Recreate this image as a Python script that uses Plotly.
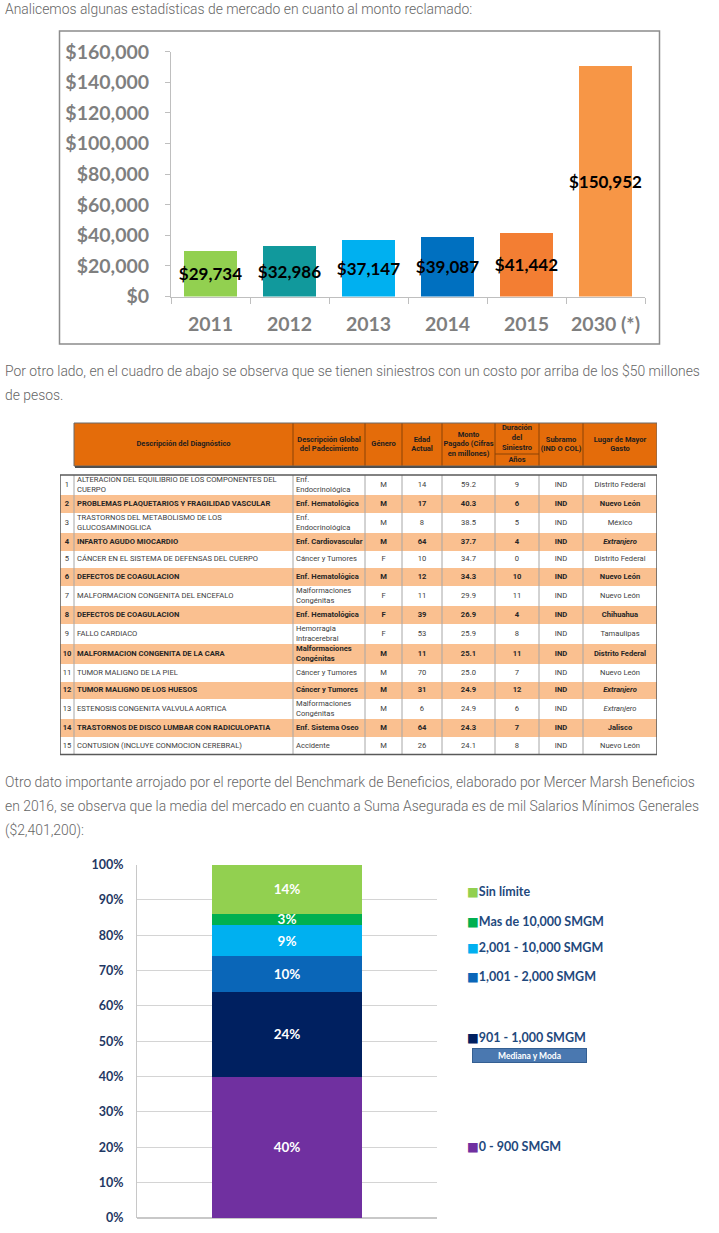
import numpy as np
import plotly.graph_objects as go

W, H = 719, 1233


def fx(p):
    return p / W


def fy(p):
    return 1 - p / H


# ---------------- data ----------------
intro_lines = ["Analicemos algunas estadísticas de mercado en cuanto al monto reclamado:"]
para2_lines = [
    "Por otro lado, en el cuadro de abajo se observa que se tienen siniestros con un costo por arriba de los $50 millones",
    "de pesos.",
]
para3_lines = [
    "Otro dato importante arrojado por el reporte del Benchmark de Beneficios, elaborado por Mercer Marsh Beneficios",
    "en 2016, se observa que la media del mercado en cuanto a Suma Asegurada es de mil Salarios Mínimos Generales",
    "($2,401,200):",
]

years = ["2011", "2012", "2013", "2014", "2015", "2030 (*)"]
claim_amounts = [29734, 32986, 37147, 39087, 41442, 150952]
year_colors = ["#92d050", "#11999c", "#00b0f0", "#0070c0", "#f37e33", "#f79646"]
amount_ticks = [0, 20000, 40000, 60000, 80000, 100000, 120000, 140000, 160000]

header_labels = [
    "Descripción del Diagnóstico",
    "Descripción Global<br>del Padecimiento",
    "Género",
    "Edad<br>Actual",
    "Monto<br>Pagado (Cifras<br>en millones)",
    "Duración<br>del<br>Siniestro",
    "Subramo<br>(IND O COL)",
    "Lugar de Mayor<br>Gasto",
]
header_sub = "Años"

row_numbers = list(range(1, 16))
diagnosis = [
    "ALTERACION DEL EQUILIBRIO DE LOS COMPONENTES DEL<br>CUERPO",
    "PROBLEMAS PLAQUETARIOS Y FRAGILIDAD VASCULAR",
    "TRASTORNOS DEL METABOLISMO DE LOS<br>GLUCOSAMINOGLICA",
    "INFARTO AGUDO MIOCARDIO",
    "CÁNCER EN EL SISTEMA DE DEFENSAS DEL CUERPO",
    "DEFECTOS DE COAGULACION",
    "MALFORMACION CONGENITA DEL ENCEFALO",
    "DEFECTOS DE COAGULACION",
    "FALLO CARDIACO",
    "MALFORMACION CONGENITA DE LA CARA",
    "TUMOR MALIGNO DE LA PIEL",
    "TUMOR MALIGNO DE LOS HUESOS",
    "ESTENOSIS CONGENITA VALVULA AORTICA",
    "TRASTORNOS DE DISCO LUMBAR CON RADICULOPATIA",
    "CONTUSION (INCLUYE CONMOCION CEREBRAL)",
]
global_desc = [
    "Enf.<br>Endocrinológica",
    "Enf. Hematológica",
    "Enf.<br>Endocrinológica",
    "Enf. Cardiovascular",
    "Cáncer y Tumores",
    "Enf. Hematológica",
    "Malformaciones<br>Congénitas",
    "Enf. Hematológica",
    "Hemorragia<br>Intracerebral",
    "Malformaciones<br>Congénitas",
    "Cáncer y Tumores",
    "Cáncer y Tumores",
    "Malformaciones<br>Congénitas",
    "Enf. Sistema Oseo",
    "Accidente",
]
gender = ["M", "M", "M", "M", "F", "M", "F", "F", "F", "M", "M", "M", "M", "M", "M"]
age = [14, 17, 8, 64, 10, 12, 11, 39, 53, 11, 70, 31, 6, 64, 26]
amount_paid = [59.2, 40.3, 38.5, 37.7, 34.7, 34.3, 29.9, 26.9, 25.9, 25.1, 25.0, 24.9, 24.9, 24.3, 24.1]
duration_years = [9, 6, 5, 4, 0, 10, 11, 4, 8, 11, 7, 12, 6, 7, 8]
subramo = ["IND"] * 15
place = [
    "Distrito Federal", "Nuevo León", "México", "Extranjero", "Distrito Federal",
    "Nuevo León", "Nuevo León", "Chihuahua", "Tamaulipas", "Distrito Federal",
    "Nuevo León", "Extranjero", "Extranjero", "Jalisco", "Nuevo León",
]

sa_categories = ["0 - 900 SMGM", "901 - 1,000 SMGM", "1,001 - 2,000 SMGM",
                 "2,001 - 10,000 SMGM", "Mas de 10,000 SMGM", "Sin límite"]
sa_share = [40, 24, 10, 9, 3, 14]
sa_colors = ["#7030a0", "#002060", "#0a66b8", "#00b0f0", "#00b050", "#92d050"]
sa_ticks = [0, 10, 20, 30, 40, 50, 60, 70, 80, 90, 100]
median_label = "Mediana y Moda"

# ---------------- styles / layout constants ----------------
TXT_FONT = "Roboto, Open Sans, sans-serif"
CH_FONT = "Lato, Open Sans, DejaVu Sans, sans-serif"
TB_FONT = "Roboto, Open Sans, sans-serif"
col_widths = [14, 219, 72, 37, 40, 53, 44, 44, 74]
body_align = ["center", "left", "left", "center", "center", "center", "center", "center", "center"]
ROW_H1, ROW_H2 = 17.6, 20.2
HEAD_TOP, HEAD_BOT, BODY_TOP = 1, 44, 53
legend_y = [20.1, 51.2, 68.2, 76.4, 84.0, 92.5]

fig = go.Figure()

# ---------------- paragraphs ----------------
annotations = []
for lines, ys in [(intro_lines, [9]), (para2_lines, [371, 395]), (para3_lines, [782, 806, 830])]:
    for line, y in zip(lines, ys):
        annotations.append(dict(
            text=line, xref="paper", yref="paper", x=fx(3), y=fy(y),
            xanchor="left", yanchor="middle", showarrow=False,
            font=dict(family=TXT_FONT, size=13.9, color="#666666", weight=300),
        ))

# ---------------- chart 1: bars ----------------
fig.add_trace(go.Bar(
    x=years, y=claim_amounts, marker=dict(color=year_colors, line=dict(width=0)),
    width=0.66, texttemplate="$%{y:,.0f}", textposition="inside", textangle=0,
    insidetextanchor="middle", constraintext="none",
    textfont=dict(family=CH_FONT, size=17, color="#000000", weight="bold"),
    xaxis="x", yaxis="y", hoverinfo="skip", showlegend=False,
))

# ---------------- chart 2: stacked ----------------
for cat, val, col in zip(sa_categories, sa_share, sa_colors):
    fig.add_trace(go.Bar(
        x=[0], y=[val], name=cat, marker=dict(color=col, line=dict(width=0)),
        width=0.497, text=[f"{val}%"], textposition="inside", textangle=0,
        insidetextanchor="middle", constraintext="none",
        textfont=dict(family=CH_FONT, size=13.5, color="#ffffff", weight="bold"),
        xaxis="x2", yaxis="y2", hoverinfo="skip", showlegend=False,
    ))

for cat, col, ly in zip(sa_categories, sa_colors, legend_y):
    annotations.append(dict(
        text=f'<span style="color:{col}">■</span>{cat}', xref="paper", yref="y2",
        x=fx(465), y=ly, xanchor="left", yanchor="middle", showarrow=False,
        font=dict(family=CH_FONT, size=12.5, color="#1f497d", weight="bold"),
    ))
annotations.append(dict(
    text=f"<b>{median_label}</b>", xref="paper", yref="paper", x=fx(529.5), y=fy(1055),
    xanchor="center", yanchor="middle", showarrow=False, width=111, height=11,
    bgcolor="#4a78b0", bordercolor="#345f92", borderwidth=1, borderpad=1,
    font=dict(family=CH_FONT, size=8.5, color="#ffffff"),
))

# ---------------- table ----------------
edges_x = np.concatenate([[0], np.cumsum(col_widths)])
n_lines = [max(a.count("<br>"), b.count("<br>")) + 1 for a, b in zip(diagnosis, global_desc)]
row_h = [ROW_H2 if n > 1 else ROW_H1 for n in n_lines]
edges_y = BODY_TOP + np.concatenate([[0], np.cumsum(row_h)])
row_centers = (edges_y[:-1] + edges_y[1:]) / 2
body_bottom = edges_y[-1]

# header background
fig.add_trace(go.Heatmap(
    x=edges_x[1:], y=[HEAD_TOP, HEAD_BOT], z=[[1] * (len(col_widths) - 1)],
    colorscale=[[0, "#e46c0a"], [1, "#e46c0a"]], showscale=False,
    xaxis="x3", yaxis="y3", hoverinfo="skip",
))
# body background
fig.add_trace(go.Heatmap(
    x=edges_x, y=edges_y, z=[[i % 2] * len(col_widths) for i in range(len(row_numbers))],
    colorscale=[[0, "#ffffff"], [1, "#fac090"]], zmin=0, zmax=1, showscale=False,
    xaxis="x3", yaxis="y3", hoverinfo="skip",
))

# header text
head_x = (edges_x[1:-1] + edges_x[2:]) / 2
head_y = [(HEAD_TOP + HEAD_BOT) / 2] * len(header_labels)
head_y[5] = HEAD_TOP + 15
fig.add_trace(go.Scatter(
    x=list(head_x) + [head_x[5]], y=head_y + [HEAD_BOT - 6],
    text=[f"<b>{t}</b>" for t in header_labels + [header_sub]],
    mode="text", textposition="middle center",
    textfont=dict(family=TB_FONT, size=7.5, color="#1e1e1e"),
    xaxis="x3", yaxis="y3", hoverinfo="skip", showlegend=False, cliponaxis=False,
))

# body text
body_cols = [
    [str(n) for n in row_numbers], diagnosis, global_desc, gender,
    [str(a) for a in age], [f"{v:.1f}" for v in amount_paid],
    [str(d) for d in duration_years], subramo,
    [f"<i>{p}</i>" if p == "Extranjero" else p for p in place],
]
row_colors = ["#262626" if i % 2 else "#404040" for i in range(len(row_numbers))]
for j, (col, al) in enumerate(zip(body_cols, body_align)):
    if al == "left":
        xs = [edges_x[j] + 3] * len(col)
        pos = "middle right"
    else:
        xs = [(edges_x[j] + edges_x[j + 1]) / 2] * len(col)
        pos = "middle center"
    texts = [f"<b>{t}</b>" if i % 2 else t for i, t in enumerate(col)]
    fig.add_trace(go.Scatter(
        x=xs, y=row_centers, text=texts, mode="text", textposition=pos,
        textfont=dict(family=TB_FONT, size=7.6, color=row_colors),
        xaxis="x3", yaxis="y3", hoverinfo="skip", showlegend=False, cliponaxis=False,
    ))

shapes = []
# header separators
for xe in edges_x[2:-1]:
    shapes.append(dict(type="line", xref="x3", yref="y3", x0=xe, x1=xe, y0=HEAD_TOP, y1=HEAD_BOT,
                       line=dict(color="#8a4206", width=1)))
shapes.append(dict(type="line", xref="x3", yref="y3", x0=edges_x[6], x1=edges_x[7],
                   y0=HEAD_TOP + 31, y1=HEAD_TOP + 31, line=dict(color="#8a4206", width=1)))
shapes.append(dict(type="rect", xref="x3", yref="y3", x0=edges_x[1], x1=edges_x[-1],
                   y0=HEAD_TOP, y1=HEAD_BOT, line=dict(color="#6b6b6b", width=1)))
shapes.append(dict(type="line", xref="x3", yref="y3", x0=edges_x[1] + 1, x1=edges_x[-1] + 1,
                   y0=HEAD_BOT + 1, y1=HEAD_BOT + 1, line=dict(color="#505050", width=2)))
shapes.append(dict(type="line", xref="x3", yref="y3", x0=edges_x[-1] + 1, x1=edges_x[-1] + 1,
                   y0=HEAD_TOP + 1, y1=HEAD_BOT + 1, line=dict(color="#505050", width=2)))
# body separators
for xe in edges_x[1:-1]:
    shapes.append(dict(type="line", xref="x3", yref="y3", x0=xe, x1=xe, y0=BODY_TOP, y1=body_bottom,
                       line=dict(color="#a6a6a6", width=1)))
shapes.append(dict(type="rect", xref="x3", yref="y3", x0=edges_x[0], x1=edges_x[-1],
                   y0=BODY_TOP, y1=body_bottom, line=dict(color="#595959", width=1.5)))
shapes.append(dict(type="line", xref="x3", yref="y3", x0=edges_x[-1] + 1, x1=edges_x[-1] + 1,
                   y0=BODY_TOP + 1, y1=body_bottom + 1, line=dict(color="#7a7a7a", width=1.5)))
# frame of chart 1
shapes.append(dict(type="rect", xref="paper", yref="paper", x0=fx(59.5), x1=fx(659.5),
                   y0=fy(344), y1=fy(31), line=dict(color="#8c8c8c", width=1.5), layer="below"))

gray_tick = dict(family=CH_FONT, size=19.5, color="#7f7f7f", weight="bold")
fig.update_layout(
    width=W, height=H, autosize=False,
    margin=dict(l=0, r=0, t=0, b=0, autoexpand=False),
    paper_bgcolor="#ffffff", plot_bgcolor="rgba(0,0,0,0)",
    barmode="stack", showlegend=False,
    annotations=annotations, shapes=shapes,
    xaxis=dict(domain=[fx(171), fx(645)], anchor="y", type="category", showline=True,
               linecolor="#bfbfbf", linewidth=1, ticks="outside", tickson="boundaries",
               ticklen=6, tickcolor="#bfbfbf", tickfont=gray_tick, ticklabelstandoff=10,
               showgrid=False, fixedrange=True, automargin=False),
    yaxis=dict(domain=[fy(296.5), fy(51.7)], anchor="x", range=[0, 160000], tickvals=amount_ticks,
               tickformat="$,.0f", showline=True, linecolor="#bfbfbf", linewidth=1,
               ticks="outside", ticklen=5, tickcolor="#bfbfbf", tickfont=gray_tick,
               ticklabelstandoff=12, showgrid=False, zeroline=False, fixedrange=True,
               automargin=False),
    xaxis2=dict(domain=[fx(137), fx(437)], anchor="y2", range=[-0.5, 0.5], showticklabels=False,
                showgrid=False, zeroline=False, showline=False, fixedrange=True, automargin=False),
    yaxis2=dict(domain=[fy(1218), fy(864.5)], anchor="x2", range=[0, 100], tickvals=sa_ticks,
                ticktext=[f"{v}%" for v in sa_ticks],
                showgrid=True, gridcolor="#d4d4d4", gridwidth=1, zeroline=True,
                zerolinecolor="#c8c8c8", showline=True, linecolor="#c8c8c8", ticks="",
                tickfont=dict(family=CH_FONT, size=12.5, color="#1f3864", weight="bold"),
                ticklabelstandoff=10, fixedrange=True, automargin=False),
    xaxis3=dict(domain=[fx(60), fx(657)], anchor="y3", range=[0, float(edges_x[-1])],
                visible=False, fixedrange=True),
    yaxis3=dict(domain=[fy(756), fy(422)], anchor="x3", range=[334, 0], visible=False,
                fixedrange=True),
)

fig.write_html("out.html", config={"displayModeBar": False},
               post_script="document.body.style.margin='0';")
